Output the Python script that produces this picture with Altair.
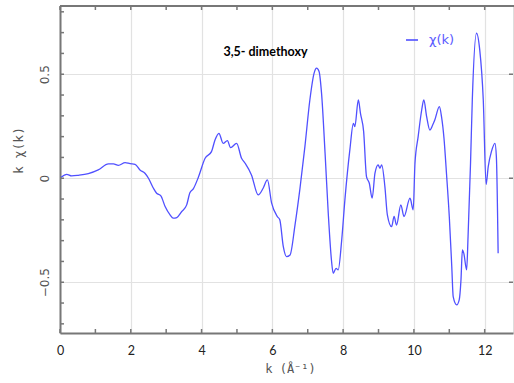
import altair as alt
import pandas as pd

# ---- data ----
k = [0.03, 0.19, 0.33, 0.52, 0.80, 1.08, 1.37, 1.51, 1.65, 1.84, 1.98, 2.12, 2.26, 2.40, 2.50,
     2.64, 2.73, 2.85, 2.97, 3.11, 3.20, 3.30, 3.44, 3.58, 3.67, 3.77, 3.91, 4.10, 4.28, 4.38,
     4.49, 4.61, 4.73, 4.82, 4.99, 5.13, 5.23, 5.41, 5.60, 5.74, 5.86, 5.98, 6.14, 6.21, 6.31,
     6.40, 6.50, 6.64, 6.78, 6.92, 7.06, 7.18, 7.25, 7.32, 7.39, 7.49, 7.58, 7.67, 7.72, 7.80,
     7.86, 7.96, 8.05, 8.19, 8.29, 8.33, 8.43, 8.49, 8.58, 8.66, 8.74, 8.82, 8.90, 8.99, 9.04,
     9.09, 9.18, 9.25, 9.37, 9.44, 9.51, 9.63, 9.72, 9.89, 9.98, 10.03, 10.12, 10.22, 10.28,
     10.36, 10.45, 10.53, 10.59, 10.72, 10.78, 10.85, 10.92, 11.00, 11.07, 11.11, 11.21, 11.28,
     11.33, 11.37, 11.41, 11.49, 11.53, 11.60, 11.65, 11.77, 11.86, 11.96, 12.04, 12.10, 12.19,
     12.29, 12.33, 12.38]
chi = [0.005, 0.019, 0.011, 0.014, 0.022, 0.040, 0.069, 0.069, 0.062, 0.075, 0.070, 0.067, 0.040,
       0.024, 0.000, -0.048, -0.072, -0.085, -0.136, -0.176, -0.192, -0.189, -0.160, -0.128,
       -0.070, -0.050, 0.005, 0.096, 0.128, 0.184, 0.216, 0.168, 0.181, 0.147, 0.168, 0.096,
       0.072, 0.016, -0.080, -0.048, -0.008, -0.120, -0.184, -0.200, -0.329, -0.377, -0.369,
       -0.225, -0.050, 0.152, 0.376, 0.505, 0.529, 0.513, 0.409, 0.120, -0.168, -0.393, -0.457,
       -0.433, -0.441, -0.297, -0.104, 0.136, 0.264, 0.248, 0.376, 0.312, 0.224, 0.008, -0.024,
       -0.096, 0.024, 0.064, 0.048, 0.064, -0.040, -0.176, -0.233, -0.184, -0.225, -0.128,
       -0.184, -0.096, -0.152, 0.072, 0.200, 0.328, 0.376, 0.296, 0.232, 0.256, 0.280, 0.344,
       0.296, 0.192, 0.024, -0.185, -0.425, -0.569, -0.609, -0.585, -0.489, -0.345, -0.361,
       -0.441, -0.281, 0.072, 0.376, 0.697, 0.617, 0.376, -0.030, 0.056, 0.128, 0.168, 0.104,
       -0.361]
series_name = "χ(k)"
x_minor_ticks = [0, 1, 2, 3, 4, 5, 6, 7, 8, 9, 10, 11, 12]
x_labels = [0, 2, 4, 6, 8, 10, 12]
y_minor_ticks = [-0.7, -0.6, -0.5, -0.4, -0.3, -0.2, -0.1, 0.0, 0.1, 0.2, 0.3, 0.4, 0.5, 0.6, 0.7, 0.8]
y_labels = [-0.5, 0, 0.5]
chart_title = "3,5- dimethoxy"

W, H = 453, 327
FRAME = "#777777"
xs = alt.Scale(domain=[0, 12.8], nice=False, zero=False)
ys = alt.Scale(domain=[-0.744, 0.828], nice=False, zero=False)

df = pd.DataFrame({"k": k, "chi": chi, "series": series_name})

line = alt.Chart(df).mark_line(strokeWidth=1.3, interpolate="monotone").encode(
    x=alt.X("k:Q", scale=xs, axis=alt.Axis(
        values=x_labels, grid=True, gridColor="#e2e2e2", gridWidth=1.2,
        ticks=False, domain=True, domainColor=FRAME, domainWidth=2, labelFlush=False,
        labelPadding=11, labelFont="Lato", labelFontSize=12.5, labelColor="#222222",
        format="d", title="k (Å⁻¹)", titleFont="DejaVu Sans Mono", titleFontSize=12,
        titleFontWeight="normal", titleColor="#555555", titleX=230, titleY=35,
        titleAlign="center", titleBaseline="middle")),
    y=alt.Y("chi:Q", scale=ys, axis=alt.Axis(
        values=y_labels, grid=True, gridColor="#e2e2e2", gridWidth=1.2,
        ticks=False, domain=True, domainColor=FRAME, domainWidth=2, labelFlush=False,
        labelPadding=9, labelAngle=270, labelFont="DejaVu Sans", labelFontSize=12,
        labelColor="#555555", format="~g", title="k χ(k)", titleFont="DejaVu Sans Mono",
        titleFontSize=13, titleFontWeight="normal", titleColor="#555555",
        titleAngle=270, titleX=-42, titleY=144, titleAlign="center",
        titleBaseline="middle")),
    color=alt.Color("series:N", scale=alt.Scale(range=["#5050ff"]), legend=alt.Legend(
        title=None, orient="none", legendX=345, legendY=27, symbolType="stroke",
        symbolSize=144, symbolStrokeWidth=1.6, labelColor="#5a5aff", labelFontSize=13,
        labelFont="DejaVu Sans", labelOffset=10, padding=0)),
)

xt = pd.DataFrame({"v": x_minor_ticks})
yt = pd.DataFrame({"v": y_minor_ticks})
ym = pd.DataFrame({"v": y_labels})

bottom_ticks = alt.Chart(xt).mark_rule(color=FRAME, strokeWidth=1.5).encode(
    x=alt.X("v:Q", scale=xs, axis=None), y=alt.value(H), y2=alt.value(H - 4))
top_ticks = alt.Chart(xt).mark_rule(color=FRAME, strokeWidth=1.5).encode(
    x=alt.X("v:Q", scale=xs, axis=None), y=alt.value(0), y2=alt.value(4))
left_ticks = alt.Chart(yt).mark_rule(color=FRAME, strokeWidth=1.5).encode(
    y=alt.Y("v:Q", scale=ys, axis=None), x=alt.value(0), x2=alt.value(4))
right_ticks = alt.Chart(ym).mark_rule(color=FRAME, strokeWidth=1.5).encode(
    y=alt.Y("v:Q", scale=ys, axis=None), x=alt.value(W), x2=alt.value(W - 4))
top_frame = alt.Chart(xt).mark_rule(color=FRAME, strokeWidth=2).encode(
    x=alt.value(0), x2=alt.value(W + 2), y=alt.value(0))

chart = alt.layer(line, bottom_ticks, top_ticks, left_ticks, right_ticks, top_frame).resolve_axis(
    x="independent", y="independent"
).properties(
    width=W, height=H,
    title=alt.TitleParams(chart_title, font="Lato", fontSize=12.5, fontWeight="bold",
                          color="black", anchor="middle", frame="group", dx=-21, dy=53,
                          offset=0),
    autosize="none",
    padding={"left": 60, "top": 6, "right": 1, "bottom": 50},
).configure_view(stroke=None).configure(background="white")

chart.save("out.html", embed_options={"renderer": "svg", "actions": False})
